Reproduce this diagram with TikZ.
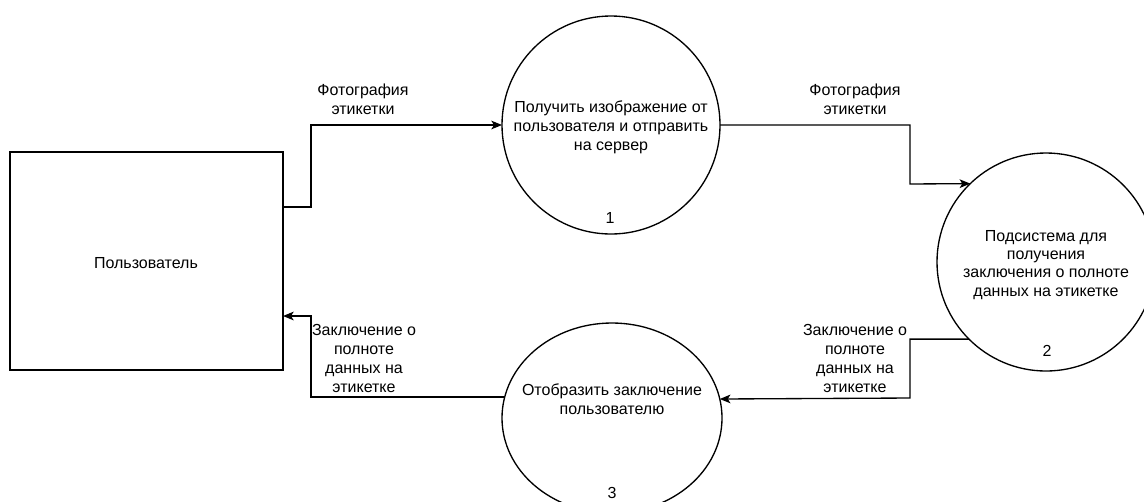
\documentclass[tikz,border=0pt]{standalone}
\usepackage{fontspec}
\setmainfont{Liberation Sans}
\usetikzlibrary{arrows.meta,shapes.geometric}
\begin{document}
\begin{tikzpicture}[x=0.75pt,y=-0.75pt,
  every node/.style={font=\fontsize{12}{14.25}\selectfont, text=black, inner sep=0pt, outer sep=0pt},
  shapeline/.style={draw=black, line width=1pt},
  proc/.style={shapeline, circle, minimum size=163.5pt},
  lbl/.style={align=center},
  arr/.style={draw=black, line width=1pt, -{Stealth[length=8pt,width=6.5pt,inset=2pt]}}]
\useasboundingbox (0,0) rectangle (1144,501);
\clip (0,0) rectangle (1144,501);
\fill[white] (0,0) rectangle (1144,501);

% shapes
\node[shapeline, rectangle, minimum width=204.75pt, minimum height=163.5pt] (user) at (146.5,261) {};
\node (usert) at (146,263) {Пользователь};

\node[proc] (p1) at (611,125) {};
\node[lbl] (p1t) at (611,127) {Получить изображение от\\пользователя и отправить\\на сервер};
\node (p1n) at (610,218) {1};

\node[proc] (p2) at (1046,262) {};
\node[lbl, font=\fontsize{12}{13.6}\selectfont] (p2t) at (1046,265) {Подсистема для\\получения\\заключения о полноте\\данных на этикетке};
\node (p2n) at (1047,351) {2};

\node[shapeline, ellipse, minimum width=165pt, minimum height=142.5pt] (p3) at (612,418) {};
\node[lbl] (p3t) at (612,399) {Отобразить заключение\\пользователю};
\node (p3n) at (612,493) {3};

% connectors
\draw[arr] (user.east |- 0,207) -| (311,160) |- (p1.west);
\draw[arr] (p1.east) -| (910,184) -- (p2.134.3);
\draw[arr] (p2.225) -| (910,398) -- (p3.10.5);
\draw[arr] (p3.169.5) -| (311,316) -- (user.east |- 0,316);

% labels
\node[lbl] (l1) at (363,99) {Фотография\\этикетки};
\node[lbl] (l2) at (855,99) {Фотография\\этикетки};
\node[lbl] (l3) at (855,358) {Заключение о\\полноте\\данных на\\этикетке};
\node[lbl] (l4) at (364,358) {Заключение о\\полноте\\данных на\\этикетке};
\end{tikzpicture}
\end{document}
